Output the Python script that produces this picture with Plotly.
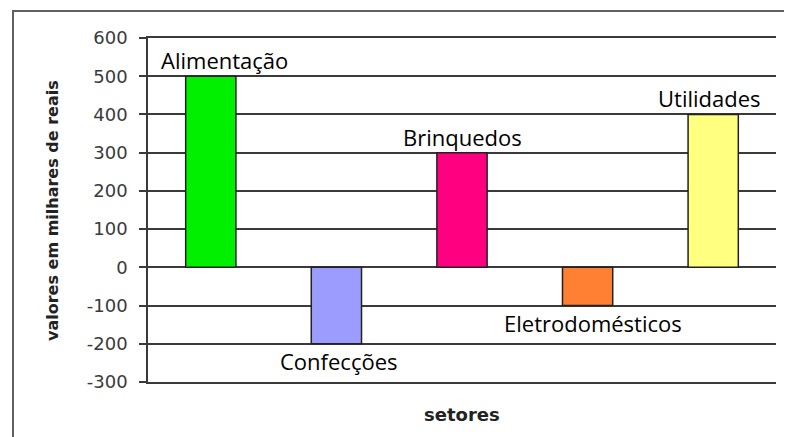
import plotly.graph_objects as go

# Data
setores = ["Alimentação", "Confecções", "Brinquedos", "Eletrodomésticos", "Utilidades"]
valores = [500, -200, 300, -100, 400]
cores = ["#00F000", "#9C9CFF", "#FF0080", "#FF8033", "#FFFF80"]
y_ticks = [-300, -200, -100, 0, 100, 200, 300, 400, 500, 600]
y_tick_labels = ["-300", "-200", "-100", "0", "100", "200", "300", "400", "500", "600"]

# layout constants (page has an 8px body margin)
OFF = 8
W, H = 792 - OFF, 437 - OFF
ML, MR, MT, MB = 148 - OFF, 16, 38 - OFF, 55
PW, PH = W - ML - MR, H - MT - MB
label_dx = [14, 3, 0, 5, -4]


def px_x(page_x):
    return (page_x - OFF - ML) / PW


def px_y(page_y):
    return (H - MB - (page_y - OFF)) / PH


fig = go.Figure()
fig.add_trace(go.Bar(
    x=setores, y=valores,
    marker=dict(color=cores, line=dict(color="#222222", width=1.5)),
    width=0.4, showlegend=False, hoverinfo="x+y",
))

grid_col = "#3a3a3a"
fig.update_layout(
    width=W, height=H,
    margin=dict(l=ML, r=MR, t=MT, b=MB),
    paper_bgcolor="white", plot_bgcolor="white",
    xaxis=dict(
        type="category", range=[-0.5, 4.5], showticklabels=False,
        showgrid=False, zeroline=False, showline=True, mirror=True,
        linecolor=grid_col, linewidth=1.5, ticks="",
    ),
    yaxis=dict(
        range=[y_ticks[0], y_ticks[-1]], tickvals=y_ticks, ticktext=y_tick_labels,
        showgrid=True, gridcolor=grid_col, gridwidth=1.5,
        zeroline=True, zerolinecolor=grid_col, zerolinewidth=1.5,
        showline=True, linecolor=grid_col, linewidth=1.5,
        ticks="outside", ticklen=7, tickcolor=grid_col, tickwidth=1.5,
        tickfont=dict(family="DejaVu Sans", size=18, color="#3a3a3a"),
        ticklabelstandoff=8,
    ),
)

# bar labels
for i, (s, v) in enumerate(zip(setores, valores)):
    fig.add_annotation(
        x=s, y=v, xref="x", yref="y", text=s, showarrow=False,
        xanchor="center", yanchor="middle",
        yshift=(16 if v > 0 else -17), xshift=label_dx[i],
        font=dict(family="Open Sans", size=22, color="black"),
    )

# axis titles
fig.add_annotation(
    x=px_x(52), y=px_y(211), xref="paper", yref="paper",
    xanchor="center", yanchor="middle",
    text="<b>valores em milhares de reais</b>", textangle=-90, showarrow=False,
    font=dict(family="DejaVu Sans", size=16, color="#222222"),
)
fig.add_annotation(
    x=0.5, y=px_y(414), xref="paper", yref="paper",
    xanchor="center", yanchor="middle",
    text="<b>setores</b>", showarrow=False,
    font=dict(family="DejaVu Sans", size=18, color="#222222"),
)

# outer border
fig.add_shape(
    type="rect", xref="paper", yref="paper",
    x0=px_x(13), x1=px_x(790),
    y0=px_y(470), y1=px_y(11),
    line=dict(color="#606060", width=2), fillcolor="rgba(0,0,0,0)", layer="below",
)

fig.write_html("out.html")
